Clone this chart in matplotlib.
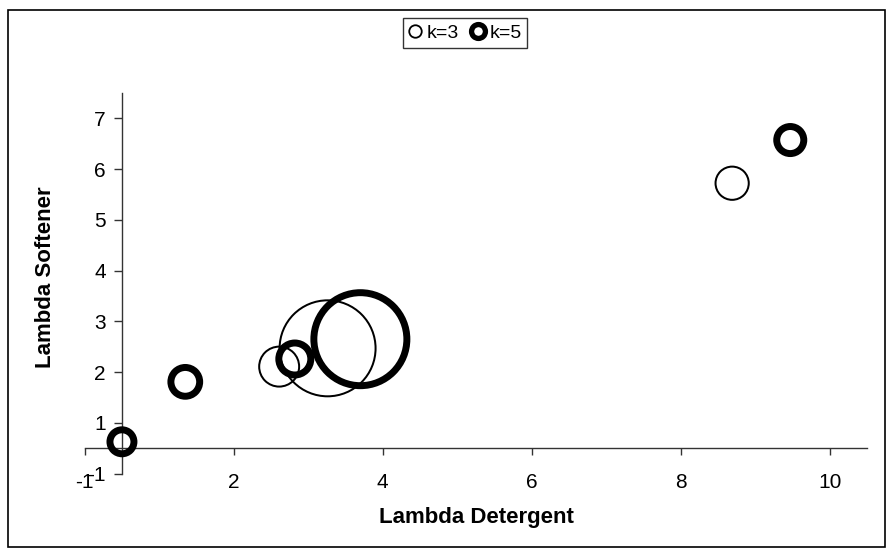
import numpy as np
import matplotlib.pyplot as plt
from matplotlib.lines import Line2D
from matplotlib.patches import Rectangle

plt.rcParams['font.family'] = ['Liberation Sans', 'DejaVu Sans']

# bubble data
k3_x = [2.61, 3.26, 8.69]
k3_y = [2.11, 2.47, 5.72]
k3_size = [4.4, 24.0, 3.1]

k5_x = [0.50, 1.35, 2.82, 3.70, 9.47]
k5_y = [0.63, 1.81, 2.26, 2.65, 6.57]
k5_size = [2.4, 3.2, 3.8, 25.0, 2.9]

x_ticks = [0, 2, 4, 6, 8, 10]
x_labels = ['-1', '2', '4', '6', '8', '10']
y_ticks = [0, 1, 2, 3, 4, 5, 6, 7]
y_labels = ['-1', '1', '2', '3', '4', '5', '6', '7']

W, H = 893, 554
fig = plt.figure(figsize=(W / 100, H / 100), dpi=100)
ax = fig.add_axes([84.7 / W, (H - 473.8) / H, (867 - 84.7) / W, (473.8 - 92.8) / H])


def msize(size, lw_px):
    # bubble size -> outer radius in px, then scatter area in pt^2
    r_out = 10 * np.sqrt(np.array(size))
    d_pt = (2 * r_out - lw_px) * 0.72
    return d_pt ** 2


ax.scatter(k3_x, k3_y, s=msize(k3_size, 2), facecolors='none', edgecolors='black',
           linewidths=1.44, clip_on=False, zorder=3)
ax.scatter(k5_x, k5_y, s=msize(k5_size, 7), facecolors='none', edgecolors='black',
           linewidths=5.0, clip_on=False, zorder=4)

ax.set_xlim(0, 10.5)
ax.set_ylim(0, 7.5)
ax.set_xticks(x_ticks)
ax.set_xticklabels(x_labels)
ax.set_yticks(y_ticks)
ax.set_yticklabels(y_labels)

for s in ['top', 'right']:
    ax.spines[s].set_visible(False)
ax.spines['left'].set_position(('data', 0.5))
ax.spines['bottom'].set_position(('data', 0.5))
for s in ['left', 'bottom']:
    ax.spines[s].set_color('#333333')
    ax.spines[s].set_linewidth(1)

ax.tick_params(axis='x', direction='out', length=5, width=1, color='#333333',
               labelsize=15, pad=12.5)
ax.tick_params(axis='y', direction='out', length=5.5, width=1, color='#333333',
               labelsize=15, pad=6)

fig.text(476 / W, 1 - 518 / H, 'Lambda Detergent', ha='center', va='center',
         fontsize=16, fontweight='bold')
fig.text(46 / W, 1 - 277 / H, 'Lambda Softener', ha='center', va='center',
         fontsize=16, fontweight='bold', rotation=90)

handles = [
    Line2D([], [], ls='none', marker='o', markersize=9, markerfacecolor='white',
           markeredgecolor='black', markeredgewidth=1.3),
    Line2D([], [], ls='none', marker='o', markersize=10, markerfacecolor='white',
           markeredgecolor='black', markeredgewidth=3.8),
]
leg = fig.legend(handles, ['k=3', 'k=5'], loc='center', bbox_to_anchor=(465 / W, 1 - 33 / H),
                 ncol=2, fontsize=14, frameon=True, fancybox=False, edgecolor='black',
                 handlelength=0.7, handletextpad=0.25, columnspacing=0.6, borderpad=0.3,
                 borderaxespad=0)
leg.get_frame().set_linewidth(1)

fig.patches.append(Rectangle((8 / W, 1 - 547 / H), 877 / W, 537 / H, transform=fig.transFigure,
                             fill=False, edgecolor='black', linewidth=1.2))

fig.savefig('out.png', dpi=100)
